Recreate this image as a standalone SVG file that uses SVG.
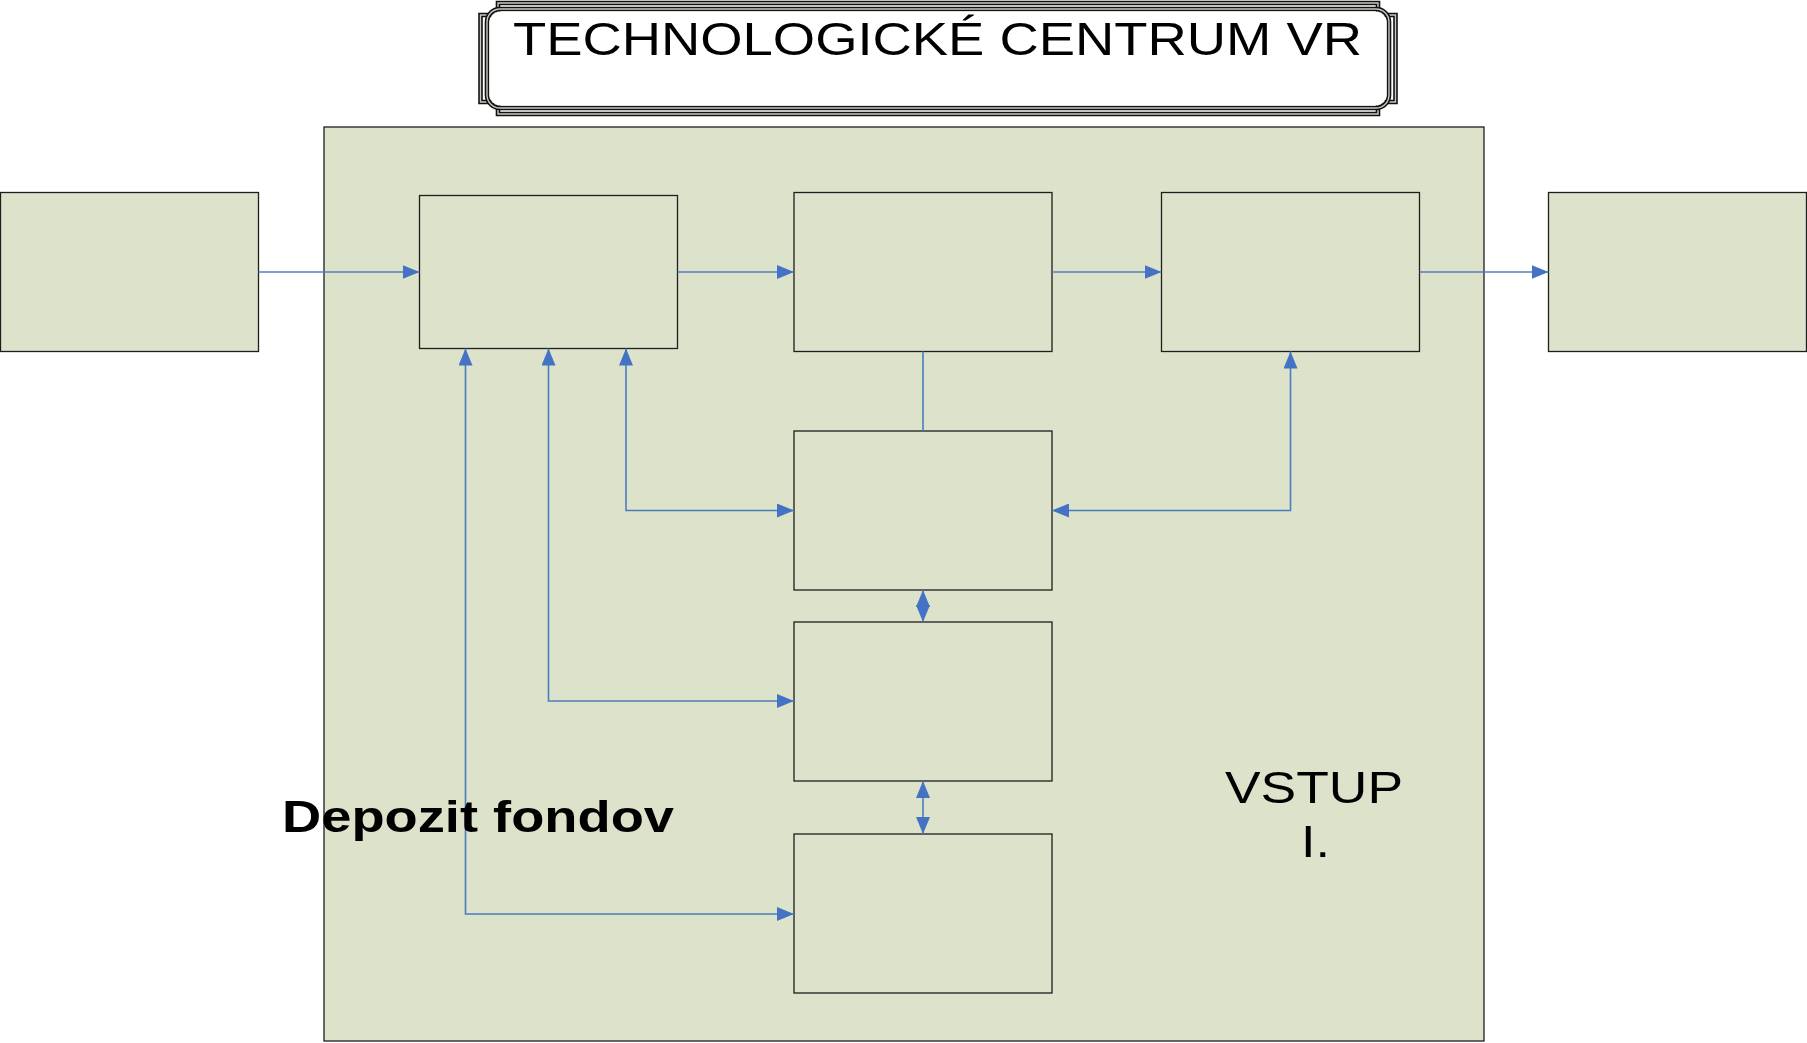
<svg xmlns="http://www.w3.org/2000/svg" width="1807" height="1043" viewBox="0 0 1807 1043">
<style>
.box{fill:#dde2cb;stroke:#1e1e1e;stroke-width:1.3}
.con{fill:none;stroke:#4a7ebb;stroke-width:1.6}
.rib{fill:none;stroke:#111;stroke-width:4.6}
.ribin{fill:none;stroke:#c9c9c0;stroke-width:1.4}
.t{font-family:"Liberation Sans",Arial,sans-serif;fill:#000}
</style>
<defs>
<marker id="ah" markerUnits="userSpaceOnUse" markerWidth="17" markerHeight="14" refX="17" refY="7" orient="auto-start-reverse" viewBox="0 0 17 14">
<path d="M0,0 L17,7 L0,14 Z" fill="#4472c4"/>
</marker>
</defs>
<rect width="1807" height="1043" fill="#fff"/>
<g id="title">
<path d="M498,3 H1378 V15 H1395.5 V102 H1378 V114 H498 V102 H480.5 V15 H498 Z" fill="#fff"/>
<path class="rib" d="M498,3 H1378 V15 H1395.5 V102 H1378 V114 H498 V102 H480.5 V15 H498 Z"/>
<path class="ribin" d="M498,3 H1378 V15 H1395.5 V102 H1378 V114 H498 V102 H480.5 V15 H498 Z"/>
<rect class="rib" x="487" y="9" width="902" height="99" rx="13"/>
<rect class="ribin" x="487" y="9" width="902" height="99" rx="13"/>
<rect x="489.5" y="11.5" width="897" height="94" rx="11" fill="#fff"/>
<text class="t" x="513" y="55" font-size="46" textLength="849" lengthAdjust="spacingAndGlyphs">TECHNOLOGICKÉ CENTRUM VR</text>
</g>
<g id="container">
<rect class="box" x="324" y="127" width="1160" height="914" stroke-width="1"/>
</g>
<g id="node-left"><rect class="box" x="0.5" y="192.5" width="258" height="159"/></g>
<g id="node-a"><rect class="box" x="419.5" y="195.5" width="258" height="153"/></g>
<g id="node-b"><rect class="box" x="794" y="192.5" width="258" height="159"/></g>
<g id="node-c"><rect class="box" x="1161.5" y="192.5" width="258" height="159"/></g>
<g id="node-right"><rect class="box" x="1548.5" y="192.5" width="258" height="159"/></g>
<g id="node-d"><rect class="box" x="794" y="431" width="258" height="159"/></g>
<g id="node-e"><rect class="box" x="794" y="622" width="258" height="159"/></g>
<g id="node-f"><rect class="box" x="794" y="834" width="258" height="159"/></g>
<g id="connectors">
<path class="con" d="M258.5,272 H419.5" marker-end="url(#ah)"/>
<path class="con" d="M677.5,272 H794" marker-end="url(#ah)"/>
<path class="con" d="M1052,272 H1161.5" marker-end="url(#ah)"/>
<path class="con" d="M1419.5,272 H1548.5" marker-end="url(#ah)"/>
<path class="con" d="M923,351.5 V431"/>
<path class="con" d="M626,348.5 V510.5 H794" marker-start="url(#ah)" marker-end="url(#ah)"/>
<path class="con" d="M1290.5,351.5 V510.5 H1052" marker-start="url(#ah)" marker-end="url(#ah)"/>
<path class="con" d="M548.5,348.5 V701 H794" marker-start="url(#ah)" marker-end="url(#ah)"/>
<path class="con" d="M465.5,348.5 V914 H794" marker-start="url(#ah)" marker-end="url(#ah)"/>
<path class="con" d="M923,590 V622" marker-start="url(#ah)" marker-end="url(#ah)"/>
<path class="con" d="M923,781 V834" marker-start="url(#ah)" marker-end="url(#ah)"/>
</g>
<g id="labels">
<text class="t" x="282" y="832" font-size="44" font-weight="bold" textLength="392" lengthAdjust="spacingAndGlyphs">Depozit fondov</text>
<text class="t" x="1225" y="803" font-size="45" textLength="178" lengthAdjust="spacingAndGlyphs">VSTUP</text>
<text class="t" x="1301" y="857" font-size="45" textLength="29" lengthAdjust="spacingAndGlyphs">I.</text>
</g>
</svg>
